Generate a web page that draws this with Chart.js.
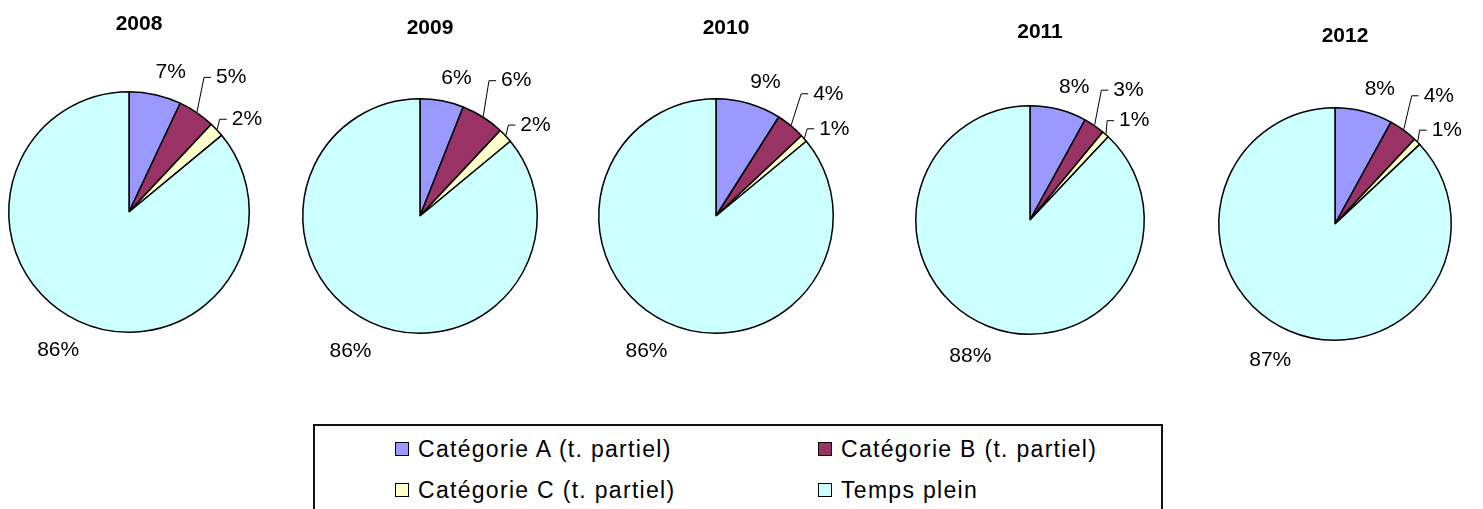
<!DOCTYPE html>
<html>
<head>
<meta charset="utf-8">
<script src="https://cdn.jsdelivr.net/npm/chart.js@4.4.1/dist/chart.umd.min.js"></script>
<style>
  body { margin: 0; background: #fff; width: 1483px; height: 509px; overflow: hidden; position: relative;
         font-family: "Liberation Sans", Arial, sans-serif; }
  canvas { position: absolute; top: 0; }
  #legend { position: absolute; left: 313px; top: 424px; width: 850px; height: 110px;
            border: 2px solid #111; box-sizing: border-box; }
  .item { position: absolute; display: flex; align-items: center; height: 26px;
          font-size: 23px; letter-spacing: 1.3px; color: #000; white-space: nowrap; }
  .sw { width: 14px; height: 14px; border: 1.5px solid #000; box-sizing: border-box; margin-right: 9px; }
</style>
</head>
<body>
<div id="legend"></div>
<script>
// values (percent)
const years = ['2008', '2009', '2010', '2011', '2012'];
const categories = ['Catégorie A (t. partiel)', 'Catégorie B (t. partiel)', 'Catégorie C (t. partiel)', 'Temps plein'];
const catA = [7, 6, 9, 8, 8];
const catB = [5, 6, 4, 3, 4];
const catC = [2, 2, 1, 1, 1];
const tempsPlein = [86, 86, 86, 88, 87];

const colors = ['#9999ff', '#993366', '#ffffcc', '#ccffff'];

// where each pie sits on the page
const pieLayout = [
  { cx: 129, cy: 212, r: 121 },
  { cx: 420, cy: 216, r: 118 },
  { cx: 716, cy: 216, r: 118 },
  { cx: 1030, cy: 220, r: 115 },
  { cx: 1335, cy: 224, r: 117 }
];

// label distance outside the arc and angle shift (deg), per category
const labelStyle = [
  { d: 25, shift: 4, leader: false },
  { d: 48, shift: 3, leader: true },
  { d: 29, shift: 5, leader: true },
  { d: 34, shift: 2, leader: false }
];

const CANVAS_W = 300;
const CANVAS_H = 420;
const BORDER = 1.5;

const pieLabels = {
  id: 'pieLabels',
  afterDatasetsDraw(chart, args, opts) {
    const ctx = chart.ctx;
    const meta = chart.getDatasetMeta(0);
    const values = chart.data.datasets[0].data;
    ctx.save();

    // year title
    ctx.font = 'bold 21px "Liberation Sans", Arial, sans-serif';
    ctx.fillStyle = '#000';
    ctx.textAlign = 'center';
    ctx.textBaseline = 'middle';
    const first = meta.data[0];
    ctx.fillText(opts.title, first.x + 10, first.y - 188);

    ctx.font = '21px "Liberation Sans", Arial, sans-serif';
    meta.data.forEach((arc, i) => {
      const p = arc.getProps(['x', 'y', 'startAngle', 'endAngle', 'outerRadius'], true);
      const r = p.outerRadius + BORDER / 2;
      const mid = (p.startAngle + p.endAngle) / 2;
      const st = labelStyle[i];
      const a = mid + st.shift * Math.PI / 180;
      const lx = p.x + (r + st.d) * Math.cos(a);
      const ly = p.y + (r + st.d) * Math.sin(a);
      const txt = values[i] + '%';
      const w = ctx.measureText(txt).width;

      if (st.leader) {
        const left = lx - w / 2;
        ctx.strokeStyle = '#000';
        ctx.lineWidth = 1;
        ctx.beginPath();
        ctx.moveTo(p.x + r * Math.cos(mid), p.y + r * Math.sin(mid));
        ctx.lineTo(left - 12, ly);
        ctx.lineTo(left - 5, ly);
        ctx.stroke();
      }
      ctx.textAlign = 'center';
      ctx.fillText(txt, lx, ly);
    });
    ctx.restore();
  }
};

years.forEach((year, k) => {
  const pos = pieLayout[k];
  const canvas = document.createElement('canvas');
  canvas.width = CANVAS_W;
  canvas.height = CANVAS_H;
  canvas.style.left = (pos.cx - CANVAS_W / 2) + 'px';
  document.body.appendChild(canvas);

  const side = CANVAS_W / 2 - pos.r;
  new Chart(canvas, {
    type: 'pie',
    data: {
      labels: categories,
      datasets: [{
        data: [catA[k], catB[k], catC[k], tempsPlein[k]],
        backgroundColor: colors,
        borderColor: '#000',
        borderWidth: BORDER
      }]
    },
    options: {
      responsive: false,
      animation: false,
      layout: {
        padding: {
          left: side,
          right: side,
          top: pos.cy - pos.r,
          bottom: CANVAS_H - pos.cy - pos.r
        }
      },
      plugins: {
        legend: { display: false },
        tooltip: { enabled: false },
        pieLabels: { title: year }
      }
    },
    plugins: [pieLabels]
  });
});

// shared legend box
const legendEl = document.getElementById('legend');
const legendCols = [80, 503];
const legendRows = [10, 51];
categories.forEach((name, i) => {
  const item = document.createElement('div');
  item.className = 'item';
  item.style.left = legendCols[i % 2] + 'px';
  item.style.top = legendRows[Math.floor(i / 2)] + 'px';
  const sw = document.createElement('span');
  sw.className = 'sw';
  sw.style.background = colors[i];
  item.appendChild(sw);
  item.appendChild(document.createTextNode(name));
  legendEl.appendChild(item);
});
</script>
</body>
</html>
